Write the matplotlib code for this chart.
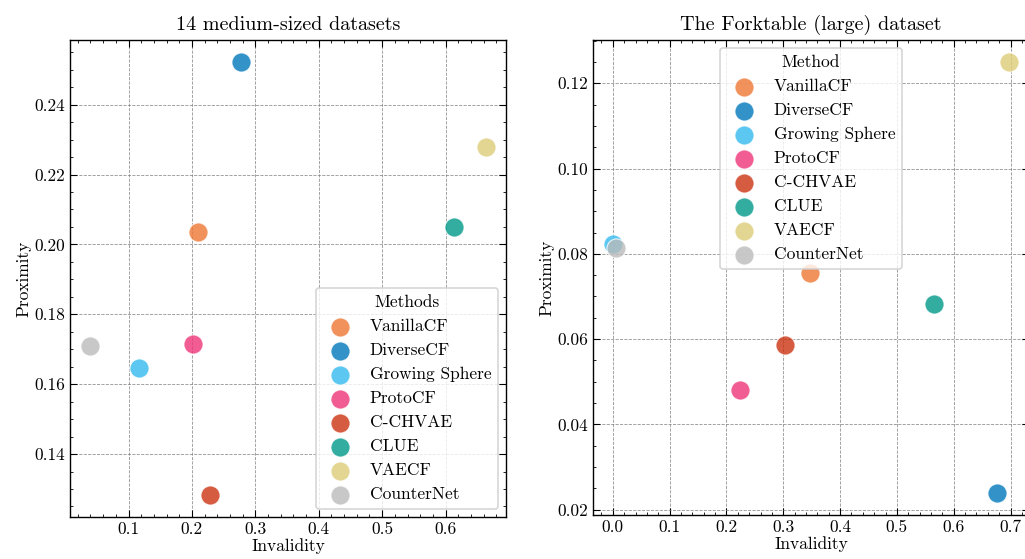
import numpy as np
import matplotlib
matplotlib.use("Agg")
import matplotlib.pyplot as plt

# methods and colours (Tol vibrant + sand)
methods = ["VanillaCF", "DiverseCF", "Growing Sphere", "ProtoCF",
           "C-CHVAE", "CLUE", "VAECF", "CounterNet"]
colors = ["#EE7733", "#0077BB", "#33BBEE", "#EE3377",
          "#CC3311", "#009988", "#DDCC77", "#BBBBBB"]

# 14 medium-sized datasets
med_invalidity = [0.209, 0.277, 0.117, 0.201, 0.228, 0.613, 0.664, 0.039]
med_proximity = [0.2036, 0.2523, 0.1645, 0.1714, 0.1282, 0.2050, 0.2279, 0.1708]

# Forktable (large) dataset
large_invalidity = [0.3465, 0.6764, 0.000, 0.2237, 0.3025, 0.5644, 0.6976, 0.006]
large_proximity = [0.0756, 0.0238, 0.0824, 0.0481, 0.0585, 0.0682, 0.1251, 0.0814]

plt.rcParams.update({
    "font.family": ["cmr10", "DejaVu Serif"],
    "mathtext.fontset": "cm",
    "axes.formatter.use_mathtext": True,
    "font.size": 12.5,
    "axes.linewidth": 1.0,
    "xtick.direction": "in",
    "ytick.direction": "in",
    "xtick.top": True,
    "ytick.right": True,
    "xtick.minor.visible": True,
    "ytick.minor.visible": True,
    "xtick.major.size": 5,
    "ytick.major.size": 5,
    "xtick.minor.size": 2.5,
    "ytick.minor.size": 2.5,
    "xtick.major.width": 0.8,
    "ytick.major.width": 0.8,
    "xtick.minor.width": 0.6,
    "ytick.minor.width": 0.6,
})

fig = plt.figure(figsize=(10.25, 5.59), dpi=100)
ax1 = fig.add_axes([70 / 1025, 1 - 517 / 559, 436 / 1025, 477 / 559])
ax2 = fig.add_axes([593 / 1025, 1 - 515 / 559, 436 / 1025, 475 / 559])


def draw(ax, xs, ys, title, legend_title, loc):
    for m, c, x, y in zip(methods, colors, xs, ys):
        ax.scatter([x], [y], s=190, color=c, alpha=0.8, edgecolor="white",
                   linewidth=0.8, label=m, zorder=3)
    ax.grid(True, linestyle="--", color="gray", linewidth=0.6, alpha=0.85)
    ax.set_axisbelow(True)
    ax.set_title(title, fontsize=14.5, pad=7)
    ax.set_xlabel("Invalidity", labelpad=1)
    ax.set_ylabel("Proximity", labelpad=2)
    ax.xaxis.set_minor_locator(matplotlib.ticker.MultipleLocator(0.02))
    ax.yaxis.set_minor_locator(matplotlib.ticker.MultipleLocator(0.005))
    leg = ax.legend(title=legend_title, loc=loc, frameon=True, framealpha=0.8,
                    edgecolor="#CCCCCC", fancybox=True, labelspacing=0.5,
                    handletextpad=0.7, borderpad=0.4, borderaxespad=0.45,
                    title_fontsize=12.5)
    leg.get_frame().set_linewidth(1.2)


draw(ax1, med_invalidity, med_proximity, "14 medium-sized datasets",
     "Methods", "lower right")
draw(ax2, large_invalidity, large_proximity, "The Forktable (large) dataset",
     "Method", "upper center")

ax1.yaxis.set_major_locator(matplotlib.ticker.MultipleLocator(0.02))
ax2.yaxis.set_major_locator(matplotlib.ticker.MultipleLocator(0.02))
ax1.yaxis.set_major_formatter(matplotlib.ticker.FormatStrFormatter("%.2f"))
ax2.yaxis.set_major_formatter(matplotlib.ticker.FormatStrFormatter("%.2f"))
ax1.xaxis.set_major_formatter(matplotlib.ticker.FormatStrFormatter("%.1f"))
ax2.xaxis.set_major_formatter(matplotlib.ticker.FormatStrFormatter("%.1f"))

fig.savefig("out.png", dpi=100)
